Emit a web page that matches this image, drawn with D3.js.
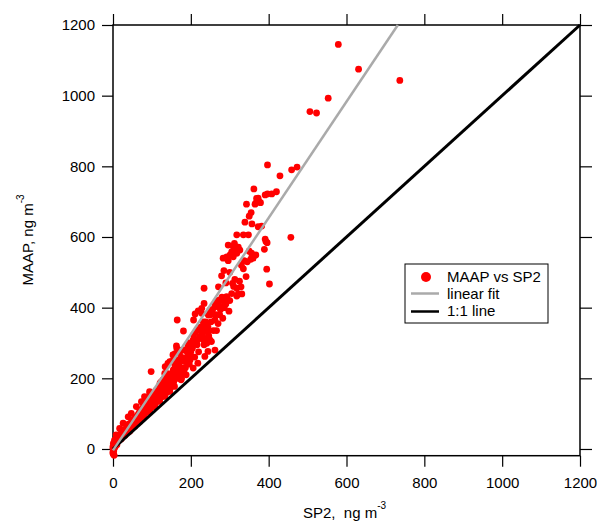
<!DOCTYPE html>
<html>
<head>
<meta charset="utf-8">
<script src="https://cdn.jsdelivr.net/npm/d3@7"></script>
<style>
  body { margin: 0; background: #fff; }
  svg { font-family: "Liberation Sans", Arial, sans-serif; }
</style>
</head>
<body>
<svg></svg>
<script>
const width = 597;
const height = 521;

// SP2 (x) and MAAP (y) values, ng m-3, in matching order
const sp2 = [
  579, 631, 737, 553, 506, 523,
  397, 459, 473, 429, 362, 420, 408, 397, 391, 373, 369, 375, 367, 379, 343, 365, 355, 350, 339, 357, 373, 382, 318, 335, 348, 391, 457,
  393, 396, 296, 312, 322, 305, 309, 301, 313, 318, 292, 283, 296, 309, 356, 367, 360, 354, 389, 395, 402, 279, 342, 313, 307, 329, 271, 234, 322, 331, 292, 283, 275, 288, 271, 262, 279, 234, 228, 309, 318, 326, 337,
  294, 318, 266, 249, 245, 232, 241, 228, 219, 219, 211, 228, 165, 207, 181, 266, 224, 232, 215, 207, 249, 241, 262, 193, 185, 172, 164, 155, 198, 181, 168, 159, 146, 155, 138, 172, 164, 146, 198, 134, 98,
  134, 146, 159, 121, 129, 151, 142, 134, 125, 112, 108, 146, 95, 91, 87, 82, 78, 99, 108, 74, 69, 65, 61, 52, 44, 35, 26, 18, 9, 5, 1, 0,
  163, 171, 154, 150, 141, 163, 188, 197, 184, 201, 214, 223, 236, 244, 231, 253, 206, 133, 141, 146, 128, 120, 137, 124, 116, 111, 107, 98, 90, 85, 81, 73, 64, 60, 51, 47, 39, 34, 26, 21, 17, 13, 8, 4, 0, 0,
  244, 236, 218, 206, 188, 175, 158, 146, 133, 120, 107, 94, 81, 69, 56, 43, 30, 21,
  94, 81, 73, 60, 47, 39, 26, 17, 8, 4,
  2, 1, 3, 0, 5, 3, 10,
  30, 36, 42, 48, 55, 58, 62, 66, 70,
  76, 80, 86, 90, 96, 100, 104, 110, 114, 118,
  124, 128, 132, 138, 142, 148, 152, 156, 160, 166, 170, 176, 180,
  186, 192, 196, 204, 210, 216, 220, 228, 234, 240, 246, 252, 258, 264, 270, 276, 282, 290, 298,
  155, 160, 168, 175, 182, 190, 195, 200, 208, 212, 218, 225, 230, 238, 244, 250, 256, 262, 268, 274, 280, 286, 300, 305, 310, 318, 325, 300, 290, 285, 335, 345, 350, 330,
  40, 50, 56, 64, 72, 84, 92, 102, 106, 116, 122, 130, 136, 140, 150, 154, 160, 168, 176, 182
];
const maap = [
  1145, 1075, 1043, 993, 955, 951,
  804, 790, 798, 773, 736, 728, 722, 722, 719, 710, 709, 700, 696, 697, 693, 693, 669, 659, 642, 637, 629, 631, 606, 606, 606, 594, 599,
  587, 584, 577, 582, 571, 558, 552, 549, 558, 554, 544, 540, 533, 544, 554, 549, 540, 537, 565, 509, 467, 490, 488, 480, 469, 459, 459, 455, 439, 439, 431, 422, 422, 412, 412, 408, 403, 412, 398, 573, 568, 563, 533,
  424, 433, 403, 393, 379, 360, 356, 346, 337, 391, 382, 384, 365, 365, 334, 335, 318, 309, 309, 323, 309, 299, 280, 290, 280, 275, 285, 266, 266, 257, 252, 238, 247, 224, 214, 224, 209, 200, 252, 233, 219,
  205, 209, 214, 186, 176, 186, 167, 158, 148, 162, 148, 195, 158, 143, 129, 134, 120, 134, 125, 101, 110, 91, 82, 73, 63, 54, 49, 40, 30, 25, 16, 7,
  292, 280, 266, 247, 242, 242, 247, 271, 280, 290, 304, 318, 313, 332, 332, 304, 309, 214, 205, 191, 195, 176, 176, 162, 153, 148, 139, 134, 125, 115, 110, 106, 96, 87, 82, 73, 63, 58, 54, 44, 35, 25, 16, 7, 2, -12,
  276, 262, 243, 229, 210, 196, 177, 163, 149, 135, 120, 106, 92, 78, 64, 50, 38, 28,
  162, 148, 134, 120, 101, 91, 73, 58, 40, 25,
  -5, -15, -18, -8, 5, 10, 12,
  45, 62, 55, 80, 70, 90, 72, 100, 85,
  95, 125, 105, 140, 115, 150, 130, 165, 135, 160,
  190, 150, 180, 160, 200, 175, 215, 190, 225, 200, 235, 215, 250,
  230, 270, 240, 285, 260, 295, 275, 320, 295, 340, 320, 360, 335, 380, 355, 395, 370, 410, 390,
  250, 270, 240, 260, 230, 255, 300, 275, 300, 330, 310, 345, 325, 360, 345, 380, 395, 365, 420, 380, 430, 400, 420, 440, 460, 455, 475, 500, 470, 505, 510, 530, 560, 520,
  70, 65, 85, 80, 95, 110, 120, 120, 145, 140, 150, 165, 170, 185, 180, 200, 200, 215, 200, 220
];

const tickValues = [0, 200, 400, 600, 800, 1000, 1200];
const fitSlope = 1.645;
const fitIntercept = -4;
const legendLabels = ["MAAP vs SP2", "linear fit", "1:1 line"];

const svg = d3.select("svg").attr("width", width).attr("height", height);

const x = d3.scaleLinear().domain([0, 1200]).range([113, 580]);
const y = d3.scaleLinear().domain([-19, 1200]).range([455.7, 25]);

const [x0, x1] = x.range();
const [y0, y1] = y.range();

//axes
const tickLen = 11;
const fmt = d3.format("d");

function styleAxis(g) {
  g.select(".domain").remove();
  g.selectAll(".tick line").attr("stroke", "#000").attr("stroke-width", 1.2);
  g.selectAll(".tick text").attr("fill", "#000").attr("font-size", 15);
}

svg.append("g")
  .attr("transform", `translate(0,${y0})`)
  .call(d3.axisBottom(x).tickValues(tickValues).tickFormat(fmt).tickSize(tickLen).tickPadding(10.7))
  .call(styleAxis);

svg.append("g")
  .attr("transform", `translate(0,${y1})`)
  .call(d3.axisTop(x).tickValues(tickValues).tickFormat("").tickSize(tickLen))
  .call(styleAxis);

svg.append("g")
  .attr("transform", `translate(${x0},0)`)
  .call(d3.axisLeft(y).tickValues(tickValues).tickFormat(fmt).tickSize(tickLen).tickPadding(7))
  .call(styleAxis);

svg.append("g")
  .attr("transform", `translate(${x1},0)`)
  .call(d3.axisRight(y).tickValues(tickValues).tickFormat("").tickSize(12))
  .call(styleAxis);

//frame
svg.append("rect")
  .attr("x", x0)
  .attr("y", y1)
  .attr("width", x1 - x0)
  .attr("height", y0 - y1)
  .attr("fill", "none")
  .attr("stroke", "#000")
  .attr("stroke-width", 1.5);

//points
svg.append("g")
  .selectAll("circle")
  .data(sp2.map((d, i) => [d, maap[i]]))
  .enter()
  .append("circle")
  .attr("cx", (d) => x(d[0]))
  .attr("cy", (d) => y(d[1]))
  .attr("r", 3.4)
  .attr("fill", "#ff0000");

//1:1 line
svg.append("line")
  .attr("x1", x(0)).attr("y1", y(0))
  .attr("x2", x(1200)).attr("y2", y(1200))
  .attr("stroke", "#000")
  .attr("stroke-width", 3);

//linear fit
const fitEnd = (1200 - fitIntercept) / fitSlope;
svg.append("line")
  .attr("x1", x(0)).attr("y1", y(fitIntercept))
  .attr("x2", x(fitEnd)).attr("y2", y(1200))
  .attr("stroke", "#aaaaaa")
  .attr("stroke-width", 2.5);

//axis titles
const xTitle = svg.append("text")
  .attr("x", 303)
  .attr("y", 518)
  .attr("font-size", 15)
  .attr("fill", "#000");
xTitle.append("tspan").text("SP2,\u00a0 ng m");
xTitle.append("tspan").attr("font-size", 10).attr("dy", -9).text("-3");

const yTitle = svg.append("text")
  .attr("transform", "translate(33,240) rotate(-90)")
  .attr("text-anchor", "middle")
  .attr("font-size", 15)
  .attr("fill", "#000");
yTitle.append("tspan").text("MAAP, ng m");
yTitle.append("tspan").attr("font-size", 10).attr("dy", -9).text("-3");

//legend
const legend = svg.append("g").attr("transform", "translate(405,264)");
legend.append("rect")
  .attr("width", 143)
  .attr("height", 59)
  .attr("fill", "#fff")
  .attr("stroke", "#000")
  .attr("stroke-width", 1);

legend.append("circle").attr("cx", 21).attr("cy", 13).attr("r", 5).attr("fill", "#ff0000");
legend.append("line").attr("x1", 6).attr("x2", 34).attr("y1", 29.5).attr("y2", 29.5)
  .attr("stroke", "#aaaaaa").attr("stroke-width", 2.5);
legend.append("line").attr("x1", 6).attr("x2", 34).attr("y1", 47.5).attr("y2", 47.5)
  .attr("stroke", "#000").attr("stroke-width", 2.5);

legend.selectAll("text.lab")
  .data(legendLabels)
  .enter()
  .append("text")
  .attr("class", "lab")
  .attr("x", 42)
  .attr("y", (d, i) => 18 + i * 17)
  .attr("font-size", 15)
  .attr("fill", "#000")
  .text((d) => d);
</script>
</body>
</html>
